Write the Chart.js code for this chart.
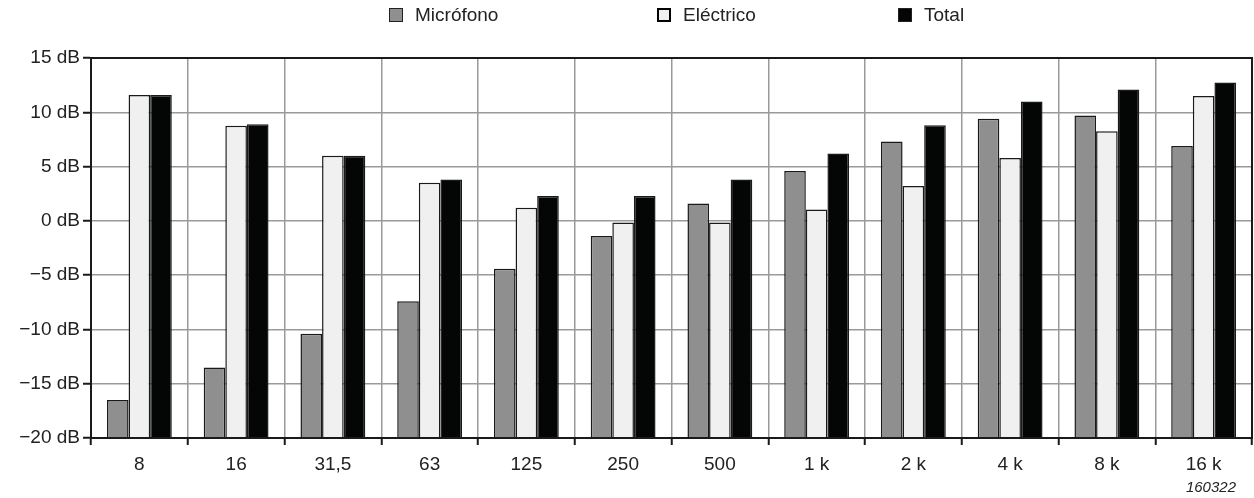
<!DOCTYPE html>
<html>
<head>
<meta charset="utf-8">
<script src="https://cdn.jsdelivr.net/npm/chart.js@4/dist/chart.umd.min.js"></script>
<style>
body { margin: 0; background: #fff; font-family: "Liberation Sans", Arial, sans-serif; }
#wrap { position: relative; width: 1254px; height: 498px; }
#legend { position: absolute; top: 4px; left: 0; width: 1254px; height: 22px; font-size: 19px; color: #222; }
#legend .item { position: absolute; top: 0; height: 22px; display: flex; align-items: center; }
#legend .box { box-sizing: border-box; width: 14px; height: 14px; border: 1.5px solid #222; margin-right: 12px; }
#note { position: absolute; right: 18px; top: 478px; font-size: 15px; font-style: italic; color: #222; }
</style>
</head>
<body>
<div id="wrap">
  <canvas id="myChart" width="1254" height="498"></canvas>
  <div id="legend"></div>
  <div id="note">160322</div>
</div>
<script>
var categories = ['8', '16', '31,5', '63', '125', '250', '500', '1 k', '2 k', '4 k', '8 k', '16 k'];
var seriesNames = ['Micrófono', 'Eléctrico', 'Total'];
var microfono = [-16.5, -13.5, -10.4, -7.4, -4.4, -1.4, 1.6, 4.6, 7.3, 9.4, 9.7, 6.9];
var electrico = [11.6, 8.75, 6.0, 3.5, 1.2, -0.15, -0.15, 1.05, 3.2, 5.8, 8.25, 11.5];
var total = [11.6, 8.9, 6.0, 3.8, 2.3, 2.3, 3.8, 6.2, 8.8, 11.0, 12.1, 12.75];
var yMin = -20, yMax = 15, yStep = 5;

var colors = ['#8f8f8f', '#f0f0f0', '#040605'];
var font = {family: '"Liberation Sans", Arial, sans-serif', size: 19};

// legend drawn as html, spaced like the original
var legendLeft = [389, 657, 898];
var legend = document.getElementById('legend');
seriesNames.forEach(function (name, i) {
    var item = document.createElement('div');
    item.className = 'item';
    item.style.left = legendLeft[i] + 'px';
    var box = document.createElement('span');
    box.className = 'box';
    box.style.background = colors[i];
    if (i == 1) { box.style.borderWidth = '2.5px'; box.style.borderColor = '#000'; }
    item.appendChild(box);
    item.appendChild(document.createTextNode(name));
    legend.appendChild(item);
});

var frame = {
    id: 'frame',
    afterDatasetsDraw: function (chart) {
        var a = chart.chartArea, ctx = chart.ctx;
        ctx.save();
        ctx.strokeStyle = '#1a1a1a';
        ctx.lineWidth = 2;
        ctx.strokeRect(a.left, a.top, a.right - a.left, a.bottom - a.top);
        ctx.restore();
    }
};

function makeSet(label, data, i) {
    return {
        label: label,
        data: data,
        base: yMin,
        backgroundColor: colors[i],
        borderColor: '#1a1a1a',
        borderWidth: 1.5,
        borderSkipped: 'bottom',
        categoryPercentage: 0.67,
        barPercentage: 1.0
    };
}

new Chart(document.getElementById('myChart'), {
    type: 'bar',
    data: {
        labels: categories,
        datasets: [
            makeSet(seriesNames[0], microfono, 0),
            makeSet(seriesNames[1], electrico, 1),
            makeSet(seriesNames[2], total, 2)
        ]
    },
    options: {
        responsive: false,
        animation: false,
        layout: {padding: {top: 58, right: 2, left: 0, bottom: 0}},
        plugins: {legend: {display: false}, tooltip: {enabled: false}},
        scales: {
            x: {
                grid: {color: '#9a9a9a', lineWidth: 1.5, tickLength: 7, tickColor: '#1a1a1a', tickWidth: 2},
                border: {color: '#1a1a1a', width: 2},
                ticks: {color: '#222', font: font, padding: 8},
                afterFit: function (scale) { scale.height = 60; }
            },
            y: {
                min: yMin,
                max: yMax,
                grid: {color: '#9a9a9a', lineWidth: 1.5, tickLength: 8, tickColor: '#1a1a1a', tickWidth: 2},
                border: {color: '#1a1a1a', width: 2},
                ticks: {
                    stepSize: yStep,
                    color: '#222',
                    font: font,
                    padding: 3,
                    callback: function (v) { return String(v).replace('-', '\u2212') + ' dB'; }
                },
                afterFit: function (scale) { scale.width = 91; }
            }
        }
    },
    plugins: [frame]
});
</script>
</body>
</html>
